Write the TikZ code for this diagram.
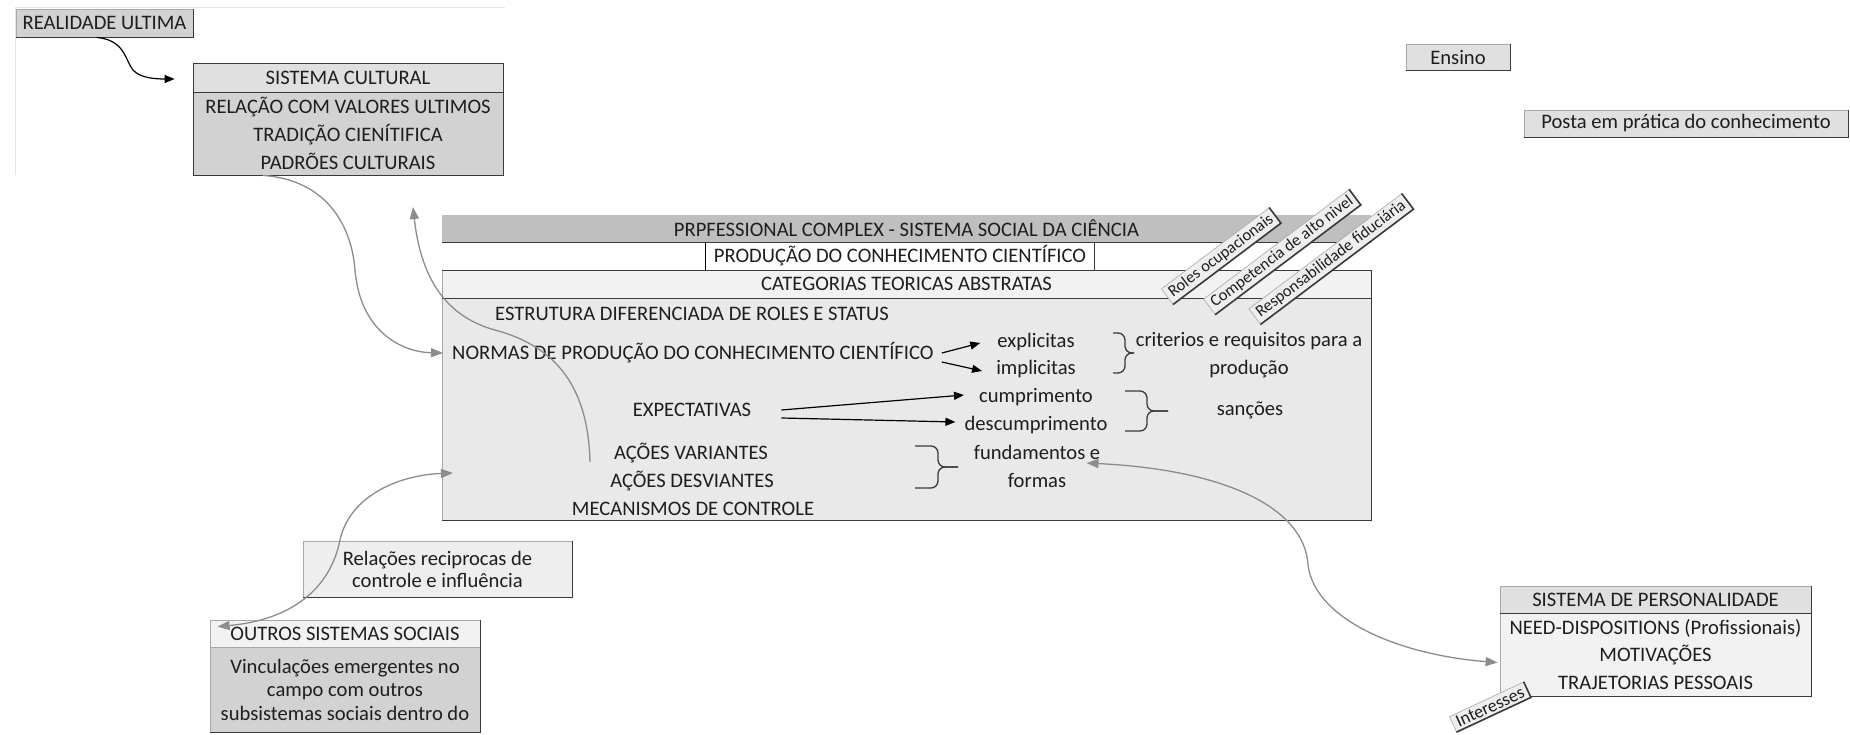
\documentclass[tikz,border=0pt]{standalone}
\usepackage{fontspec}
\setmainfont{Carlito}
\usetikzlibrary{arrows.meta,calc}
\definecolor{txt}{HTML}{1E1E1E}
\definecolor{hdr}{HTML}{BFBFBF}
\definecolor{rowg}{HTML}{F2F2F2}
\definecolor{bodyg}{HTML}{E9E9E9}
\definecolor{midg}{HTML}{D2D2D2}
\definecolor{lightg}{HTML}{E0E0E0}
\definecolor{paleg}{HTML}{EEEEEE}
\definecolor{conn}{HTML}{8C8C8C}
\definecolor{edge}{HTML}{3A3A3A}
\definecolor{faint}{HTML}{E4E4E4}
\definecolor{thin}{HTML}{A8A8A8}
\newcommand{\exshadow}[1]{\draw[edge,line width=1.6pt] (#1.south west) -- (#1.south east) -- (#1.north east);}
\begin{document}
\begin{tikzpicture}[x=1pt,y=-1pt,
  every node/.style={text=txt, font=\fontsize{20.6}{28}\selectfont, inner sep=0pt},
  exbox/.style={draw=thin, line width=0.8pt, align=center, minimum height=28pt},
  rlab/.style={fill=paleg, draw=thin, line width=0.6pt, font=\fontsize{16.5}{18}\selectfont, inner xsep=4pt, inner ysep=2.5pt, rotate=37},
  conn/.style={draw=conn, line width=1.3pt, -{Triangle[length=12pt,width=9pt]}},
  conntwo/.style={draw=conn, line width=1.3pt, {Triangle[length=12pt,width=9pt]}-{Triangle[length=12pt,width=9pt]}},
  blk/.style={draw=black, line width=1.2pt, -{Triangle[length=10pt,width=8pt]}},
  brc/.style={draw=edge, line width=1.3pt, rounded corners=7pt},
  rule/.style={draw=edge, line width=1.3pt}
]
\useasboundingbox (0,0) rectangle (1850,735);
\fill[white] (0,0) rectangle (1850,735);
% faint frame lines
\draw[faint, line width=1pt] (15,8) -- (505,8);
\draw[faint, line width=1pt] (15,8) -- (15,175);

% REALIDADE ULTIMA
\node[exbox, fill=midg, minimum width=177pt] (real) at (104.5,23) {REALIDADE ULTIMA};
\exshadow{real}

% SISTEMA CULTURAL
\node[exbox, draw=edge, fill=lightg, minimum width=310pt, minimum height=29pt] (sch) at (348,77.5) {SISTEMA CULTURAL};
\node[exbox, draw=edge, fill=midg, minimum width=310pt, minimum height=83pt] (scb) at (348,133.5)
  {RELAÇÃO COM VALORES ULTIMOS\\TRADIÇÃO CIENÍTIFICA\\PADRÕES CULTURAIS};
\exshadow{scb}

% MAIN BOX
\node[fill=hdr, minimum width=929pt, minimum height=27pt] (mh) at (906.5,228.5) {PRPFESSIONAL COMPLEX - SISTEMA SOCIAL DA CIÊNCIA};
\node[fill=white, minimum width=929pt, minimum height=28pt] (m2) at (906.5,256) {};
\node[minimum width=388pt, minimum height=28pt] (prod) at (900,256) {PRODUÇÃO DO CONHECIMENTO CIENTÍFICO};
\node[fill=rowg, draw=thin, line width=0.8pt, minimum width=929pt, minimum height=28pt] (m3) at (906.5,284) {CATEGORIAS TEORICAS ABSTRATAS};
\node[fill=bodyg, draw=thin, line width=0.8pt, minimum width=929pt, minimum height=222pt] (mb) at (906.5,409) {};
\draw[thin, line width=0.8pt] (prod.north west) -- (prod.south west);
\draw[rule] (prod.north east) -- (prod.south east);
\draw[rule] (mh.south west) -- (mh.south east);
\draw[rule] (m2.south west) -- (m2.south east);
\draw[rule] (m3.south west) -- (m3.south east);
\draw[rule] (m3.north east) -- (mb.south east) -- (mb.south west);

% body texts
\node[anchor=west] (estr) at (495,314) {ESTRUTURA DIFERENCIADA DE ROLES E STATUS};
\node[anchor=west] (norm) at (452,353) {NORMAS DE PRODUÇÃO DO CONHECIMENTO CIENTÍFICO};
\node (expl) at (1036,342) {explicitas};
\node (impl) at (1036,369) {implicitas};
\node[align=center] (crit) at (1249,355) {criterios e requisitos para a\\produção};
\node (expc) at (692,410) {EXPECTATIVAS};
\node (cump) at (1036,397) {cumprimento};
\node (desc) at (1036,425) {descumprimento};
\node (sanc) at (1250,410) {sanções};
\node (avar) at (691,453) {AÇÕES VARIANTES};
\node (ades) at (692,481) {AÇÕES DESVIANTES};
\node (mec) at (693,509) {MECANISMOS DE CONTROLE};
\node[align=center] (fund) at (1037,466) {fundamentos e\\formas};

% black arrows
\draw[blk] ($(norm.east)+(8,0)$) -- ($(expl.west)+(-17,1)$);
\draw[blk] ($(norm.east)+(8,9)$) -- ($(impl.west)+(-14,2)$);
\draw[blk] ($(expc.east)+(30,0)$) -- ($(cump.west)+(-15,-2)$);
\draw[blk] ($(expc.east)+(30,8)$) -- ($(desc.west)+(-9,-3)$);

% braces
\draw[brc] (1113,333) -- (1125,333) -- (1125,353) -- (1134,353);
\draw[brc] (1134,353) -- (1125,353) -- (1125,373) -- (1113,373);
\draw[brc] (1125,391) -- (1147,391) -- (1147,411) -- (1168,411);
\draw[brc] (1168,411) -- (1147,411) -- (1147,431) -- (1125,431);
\draw[brc] (915,446) -- (938,446) -- (938,467) -- (958,467);
\draw[brc] (958,467) -- (938,467) -- (938,488) -- (915,488);

% rotated labels
\node[rlab] (roles) at (1221,256) {Roles ocupacionais};
\exshadow{roles}
\node[rlab] (comp) at (1282,252) {Competencia de alto nivel};
\exshadow{comp}
\node[rlab] (resp) at (1331,259) {Responsabilidade fiduciária};
\exshadow{resp}

% Ensino / Posta
\node[exbox, fill=lightg, minimum width=104pt, minimum height=26pt] (ens) at (1458,57) {Ensino};
\exshadow{ens}
\node[exbox, fill=lightg, minimum width=324pt, minimum height=27pt] (posta) at (1686,123.5) {Posta em prática do conhecimento};
\exshadow{posta}

% Relacoes
\node[exbox, fill=paleg, minimum width=269pt, minimum height=56pt, font=\fontsize{20.6}{22}\selectfont] (rel) at (437.5,569) {Relações reciprocas de\\controle e influência};
\exshadow{rel}

% OUTROS SISTEMAS SOCIAIS
\node[exbox, fill=rowg, minimum width=270pt, minimum height=27pt] (osh) at (345,633.5) {OUTROS SISTEMAS SOCIAIS};
\node[exbox, fill=midg, minimum width=270pt, minimum height=85pt, font=\fontsize{20.6}{23.5}\selectfont] (osb) at (345,689.5)
  {Vinculações emergentes no\\campo com outros\\subsistemas sociais dentro do};
\exshadow{osb}
\draw[edge, line width=1.6pt] (osh.north east) -- (osh.south east);

% SISTEMA DE PERSONALIDADE
\node[exbox, fill=lightg, minimum width=311pt, minimum height=27pt] (sph) at (1655.5,599.5) {SISTEMA DE PERSONALIDADE};
\node[exbox, fill=rowg, minimum width=311pt, minimum height=83pt, font=\fontsize{20.6}{27.5}\selectfont] (spb) at (1655.5,654.5)
  {NEED-DISPOSITIONS (Profissionais)\\MOTIVAÇÕES\\TRAJETORIAS PESSOAIS};
\draw[rule] (sph.south west) -- (sph.south east);
\exshadow{spb}
\draw[edge, line width=1.6pt] (sph.north east) -- (sph.south east);

\node[rlab, rotate=-12, font=\fontsize{18}{20}\selectfont] (inter) at (1490,707) {Interesses};
\exshadow{inter}

% connectors
\coordinate (a1) at ($(scb.south west)+(70,0)$);
\draw[conn] (a1) .. controls (330,180) and (352,230) .. (355,270) .. controls (360,330) and (400,352) .. ($(norm.west)+(-9,0)$);
\coordinate (b1) at (590,462);
\coordinate (b2) at (413,207);
\draw[conn] (b1) .. controls (588,380) and (550,345) .. (495,330) .. controls (440,315) and (420,270) .. (b2);
\coordinate (c1) at ($(osh.north west)+(8,7)$);
\coordinate (c2) at (453,473);
\draw[conntwo] (c1) .. controls (290,620) and (330,590) .. (340,540) .. controls (350,495) and (400,475) .. (c2);
\coordinate (d1) at ($(fund.east)+(-14,-3)$);
\draw[conntwo] (d1) .. controls (1230,470) and (1305,510) .. (1308,565) .. controls (1315,620) and (1400,655) .. ($(spb.west)+(-2,8)$);
\draw[blk] ($(real.south west)+(81,0)$) .. controls (125,40) and (125,60) .. (133,70) .. controls (140,78) and (155,79) .. ($(sch.west)+(-18,1.5)$);
\end{tikzpicture}
\end{document}
